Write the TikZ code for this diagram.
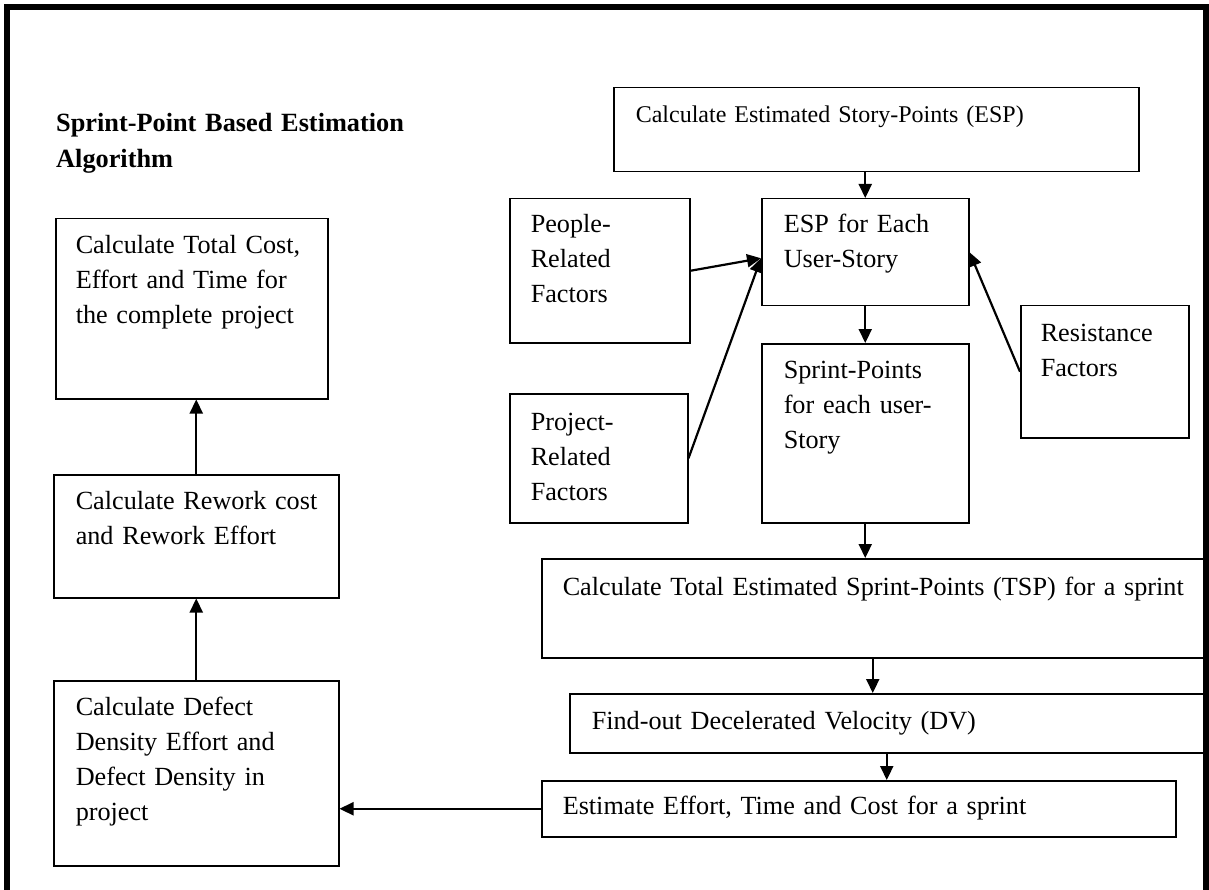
\documentclass[tikz,border=0pt]{standalone}
\usepackage{fontspec}
\setmainfont{Liberation Serif}
\usetikzlibrary{arrows.meta}
\begin{document}
\begin{tikzpicture}[x=1pt,y=-1pt,
  % step box: width, height above first baseline, depth below it, left padding
  fbox/.style n args={4}{draw, line width=1.5pt, anchor=north west, inner sep=0pt,
     text width=#1pt, text height=#2pt, text depth=#3pt, align=left,
     font=\fontsize{26.2}{35}\selectfont,
     execute at begin node={\leftskip=#4pt\relax}},
  arr/.style={line width=2.2pt, -{Triangle[length=14pt,width=13pt]}}]
\useasboundingbox (0,0) rectangle (1209,890);

% outer frame
\draw[line width=6pt] (7,890) -- (7,7) -- (1206,7) -- (1206,890);

% heading
\node[anchor=base west, inner sep=0pt, align=left, text width=500pt,
      font=\bfseries\fontsize{26.3}{36}\selectfont] (title) at (56,132)
  {Sprint-Point Based Estimation\\Algorithm};

% right-hand flow
\node[fbox={525}{35}{49}{22}, font=\fontsize{24}{35}\selectfont]
                                (esp)     at (613,87)  {Calculate Estimated Story-Points (ESP)};
\node[fbox={180}{34}{110}{21}]  (people)  at (509,198) {People-\\Related\\Factors};
\node[fbox={207}{34}{73}{22}]   (each)    at (761,198) {ESP for Each\\User-Story};
\node[fbox={168}{36}{96}{20}]   (resist)  at (1020,305) {Resistance\\Factors};
\node[fbox={178}{37}{92}{21}]   (project) at (509,393) {Project-\\Related\\Factors};
\node[fbox={207}{35}{144}{22}]  (sprint)  at (761,343) {Sprint-Points\\for each user-\\Story};
\node[fbox={662}{37}{62}{21}]   (tsp)     at (541,558) {Calculate Total Estimated Sprint-Points (TSP) for a sprint};
\node[fbox={634}{36}{23}{22}]   (dv)      at (569,693) {Find-out Decelerated Velocity (DV)};
\node[fbox={634}{34}{22}{21}]   (est)     at (541,780) {Estimate Effort, Time and Cost for a sprint};

% left-hand flow
\node[fbox={272}{35}{145}{20}]  (total)   at (55,218)  {Calculate Total Cost,\\Effort and Time for\\the complete project};
\node[fbox={285}{35}{88}{22}]   (rework)  at (53,474)  {Calculate Rework cost\\and Rework Effort};
\node[fbox={285}{35}{150}{22}]  (defect)  at (53,680)  {Calculate Defect\\Density Effort and\\Defect Density in\\project};

% connectors
\draw[arr] (esp.south -| each.north) -- (each.north);
\draw[arr] (each.south) -- (sprint.north);
\draw[arr] (sprint.south) -- (sprint.south |- tsp.north);
\draw[arr] (tsp.south) -- (tsp.south |- dv.north);
\draw[arr] (dv.south) -- (dv.south |- est.north);
\draw[arr] (people.east) -- ([yshift=-6pt]each.west);
\draw[arr] (project.east) -- ([yshift=-6pt]each.west);
\draw[arr] (resist.west) -- (each.east);
\draw[arr] (est.west) -- (est.west -| defect.east);
\draw[arr] (defect.north) -- (defect.north |- rework.south);
\draw[arr] (rework.north) -- (rework.north |- total.south);
\end{tikzpicture}
\end{document}
